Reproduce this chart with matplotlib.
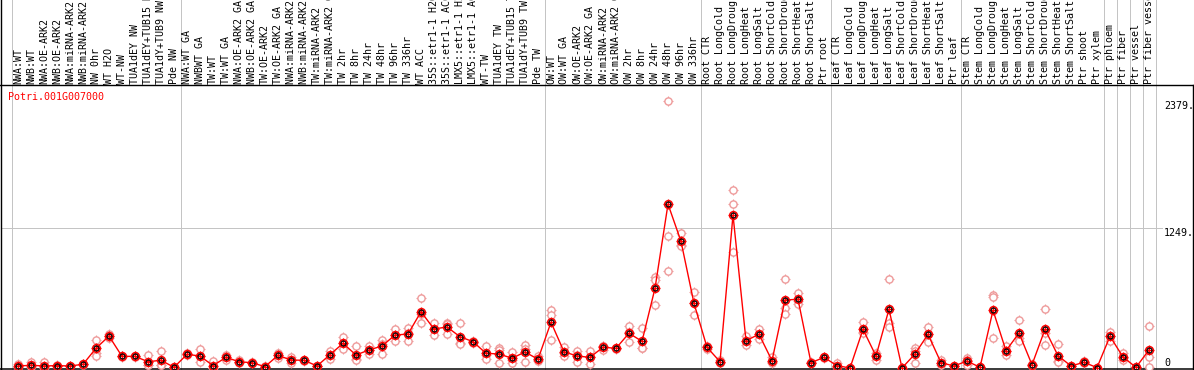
import matplotlib
matplotlib.use("Agg")
import matplotlib.pyplot as plt

gene = "Potri.001G007000"

labels = [
    "NWA:WT", "NWB:WT", "NWA:OE-ARK2", "NWB:OE-ARK2", "NWA:miRNA-ARK2",
    "NWB:miRNA-ARK2", "NW 0hr", "WT H2O", "WT-NW", "TUA1dEY NW",
    "TUA1dEY+TUB15 NW", "TUA1dY+TUB9 NW", "Pde NW",
    "NWA:WT GA", "NWBWT GA", "TW:WT", "TW:WT GA", "NWA:OE-ARK2 GA",
    "NWB:OE-ARK2 GA", "TW:OE-ARK2", "TW:OE-ARK2 GA", "NWA:miRNA-ARK2 GA",
    "NWB:miRNA-ARK2 GA", "TW:miRNA-ARK2", "TW:miRNA-ARK2 GA", "TW 2hr",
    "TW 8hr", "TW 24hr", "TW 48hr", "TW 96hr", "TW 336hr", "WT ACC",
    "35S::etr1-1 H2O", "35S::etr1-1 ACC", "LMX5::etr1-1 H2O",
    "LMX5::etr1-1 ACC", "WT-TW", "TUA1dEY TW", "TUA1dEY+TUB15 TW",
    "TUA1dY+TUB9 TW", "Pde TW",
    "OW:WT", "OW:WT GA", "OW:OE-ARK2", "OW:OE-ARK2 GA", "OW:miRNA-ARK2",
    "OW:miRNA-ARK2 GA", "OW 2hr", "OW 8hr", "OW 24hr", "OW 48hr",
    "OW 96hr", "OW 336hr",
    "Root CTR", "Root LongCold", "Root LongDrought", "Root LongHeat",
    "Root LongSalt", "Root ShortCold", "Root ShortDrought", "Root ShortHeat",
    "Root ShortSalt", "Ptr root",
    "Leaf CTR", "Leaf LongCold", "Leaf LongDrought", "Leaf LongHeat",
    "Leaf LongSalt", "Leaf ShortCold", "Leaf ShortDrought", "Leaf ShortHeat",
    "Leaf ShortSalt", "Ptr leaf",
    "Stem CTR", "Stem LongCold", "Stem LongDrought", "Stem LongHeat",
    "Stem LongSalt", "Stem ShortCold", "Stem ShortDrought", "Stem ShortHeat",
    "Stem ShortSalt", "Ptr shoot", "Ptr xylem",
    "Ptr phloem", "Ptr fiber", "Ptr vessel", "Ptr fiber vessel",
]

means = [18, 24, 18, 21, 18, 33, 176, 285, 104, 104,
         56, 69, 6, 122, 107, 21, 95, 56, 47, 12,
         113, 71, 69, 18, 119, 220, 116, 161, 196, 294,
         303, 502, 348, 366, 279, 235, 131, 125, 87, 143,
         78, 408, 145, 107, 95, 185, 176, 310, 238, 711,
         1462, 1130, 577, 185, 56, 1365, 244, 301, 65, 607,
         613, 47, 95, 21, 0, 345, 107, 524, 0, 125,
         301, 47, 18, 62, 6, 515, 154, 312, 29, 345,
         110, 18, 51, 3, 283, 98, 6, 161]

rep_a = [40, 50, 50, 25, 20, 35, 250, 303, 110, 110,
         113, 152, 10, 130, 167, 65, 115, 70, 50, 15,
         136, 95, 75, 22, 154, 274, 196, 199, 250, 348,
         357, 622, 399, 404, 399, 245, 196, 176, 145, 205,
         107, 517, 190, 154, 152, 200, 180, 377, 357, 814,
         2379, 1202, 675, 199, 70, 1588, 285, 348, 101, 791,
         666, 50, 100, 42, 0, 408, 136, 791, 0, 176,
         368, 71, 20, 92, 6, 654, 196, 425, 40, 524,
         214, 20, 60, 3, 324, 136, 6, 375]
rep_b = [10, 15, 5, 20, 18, 33, 134, 285, 104, 104,
         30, 30, 5, 122, 104, 0, 95, 56, 47, 12,
         113, 71, 69, 18, 120, 220, 80, 161, 214, 290,
         308, 485, 350, 393, 220, 235, 120, 157, 70, 168,
         70, 473, 135, 116, 98, 193, 176, 318, 181, 785,
         1177, 1100, 583, 185, 56, 1460, 240, 301, 50, 533,
         600, 47, 95, 12, 0, 317, 113, 404, 0, 152,
         306, 47, 18, 67, 6, 631, 150, 270, 29, 309,
         60, 18, 51, 3, 283, 90, 6, 101]
rep_c = [5, 8, 0, 18, 15, 30, 107, 268, 98, 98,
         25, 25, 3, 114, 51, 0, 75, 42, 44, 9,
         90, 47, 63, 14, 83, 167, 71, 125, 125, 244,
         244, 399, 294, 301, 218, 225, 78, 42, 47, 56,
         58, 250, 110, 51, 36, 161, 172, 235, 176, 559,
         865, 1088, 473, 171, 42, 1037, 207, 256, 44, 482,
         573, 44, 90, 9, 0, 310, 71, 368, 0, 47,
         229, 23, 16, 27, 6, 265, 116, 241, 18, 202,
         56, 16, 42, 3, 244, 68, 6, 8]

group_edges = [0, 13, 41, 53, 63, 73, 84, 85, 86, 87, 88]
grid_value = 1249
max_value = 2379

# pixel layout of the original: 13 px per column, first column centred at x=18,
# zero at y=368 from top, 1249 at y=228
W, H = 1194, 370
col_px, x0_px = 13.0, 18.0
ppu = 140.0 / 1249.0
zero_px = 368.0

fig = plt.figure(figsize=(W / 100, H / 100), dpi=100)
ax = fig.add_axes([0, 0, 1, 1])
ax.set_axis_off()
ax.set_xlim(-x0_px / col_px, (W - x0_px) / col_px)
ax.set_ylim(-(H - zero_px) / ppu, zero_px / ppu)


def px_x(px):
    return (px - x0_px) / col_px


def px_y(px):
    return (zero_px - px) / ppu


ymin, ymax = ax.get_ylim()
gray = "#c4c4c4"
px = 0.72  # one pixel in points

for k in group_edges:
    ax.plot([k - 0.5, k - 0.5], [ymin, ymax], color=gray, lw=px, zorder=1)
ax.plot([px_x(1), px_x(1162)], [grid_value, grid_value], color=gray, lw=px, zorder=1)

# frame lines
ax.plot([px_x(0), px_x(W)], [px_y(85), px_y(85)], color="black", lw=1.4 * px, zorder=2)
ax.plot([px_x(0), px_x(W)], [px_y(368.5), px_y(368.5)], color="black", lw=1.5 * px, zorder=2)
ax.plot([px_x(1), px_x(1)], [ymin, ymax], color="black", lw=1.4 * px, zorder=2)
ax.plot([px_x(1193), px_x(1193)], [ymin, px_y(85)], color="black", lw=1.4 * px, zorder=2)

xs = list(range(len(labels)))
font = dict(family="DejaVu Sans Mono", size=7.2)

for i, lab in enumerate(labels):
    ax.text(i, px_y(84), lab, rotation=90, ha="center", va="bottom",
            color="black", **font)

ax.text(px_x(8), px_y(97), gene, color="red", ha="left", va="center", **font)
ax.text(px_x(1164), max_value, "2379.", ha="left", va="top", **font)
ax.text(px_x(1164), grid_value, "1249.", ha="left", va="top", **font)
ax.text(px_x(1164), 0, "0", ha="left", va="bottom", **font)

pale = "#ee9a9a"
for rep in (rep_a, rep_b, rep_c):
    ax.plot(xs, rep, linestyle="none", marker="+", ms=6.5, mew=0.8,
            color=pale, zorder=3)
    ax.plot(xs, rep, linestyle="none", marker="o", ms=5.2, mew=1.0,
            mfc="white", mec=pale, zorder=3)

ax.plot(xs, means, color="red", lw=1.0, zorder=4)
ax.plot(xs, means, linestyle="none", marker="+", ms=7, mew=0.9,
        color="red", zorder=5)
ax.plot(xs, means, linestyle="none", marker="o", ms=5.6, mew=1.1,
        mfc="none", mec="red", zorder=5)
ax.plot(xs, means, linestyle="none", marker="o", ms=3.6, mew=0.9,
        mfc="none", mec="black", zorder=6)

fig.savefig("out.png", dpi=100)
